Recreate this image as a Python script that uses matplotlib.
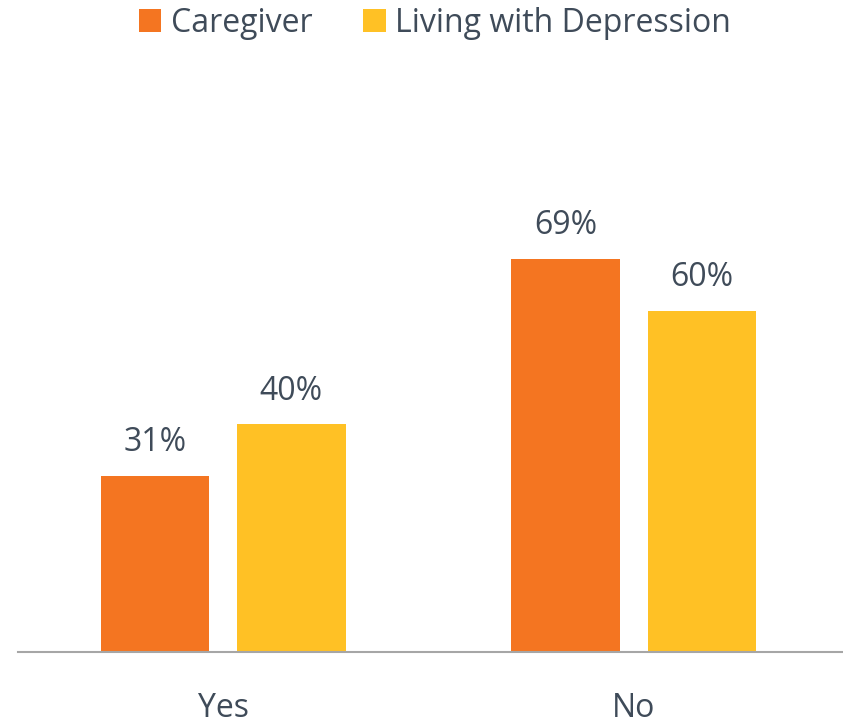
import matplotlib.pyplot as plt
import numpy as np

categories = ["Yes", "No"]
series_names = ["Caregiver", "Living with Depression"]
caregiver = [31, 69]
living = [40, 60]

colors = ["#F47521", "#FFC125"]
text_color = "#3F4B59"

plt.rcParams["font.family"] = ["Open Sans", "DejaVu Sans"]

fig = plt.figure(figsize=(8.43, 7.26), dpi=100)
ax = fig.add_axes([0.0214, 0.1019, 0.9786, 0.784])

x = np.arange(len(categories))
width = 0.264
offset = 0.166

for vals, name, color, dx in zip([caregiver, living], series_names, colors, [-offset, offset]):
    bars = ax.bar(x + dx, vals, width, color=color, label=name)
    for b, v in zip(bars, vals):
        ax.annotate(f"{v}%", (b.get_x() + b.get_width() / 2, v),
                    xytext=(0, 24), textcoords="offset points",
                    ha="center", va="center", fontsize=23, color=text_color)

ax.set_xlim(-0.5, 1.51)
ax.set_ylim(0, 100)
ax.set_xticks(x)
ax.set_xticklabels(categories, fontsize=23, color=text_color)
ax.tick_params(axis="x", length=0, pad=29)
ax.set_yticks([])
for s in ["top", "right", "left"]:
    ax.spines[s].set_visible(False)
ax.spines["bottom"].set_color("#A6A6A6")
ax.spines["bottom"].set_linewidth(1.5)

leg = fig.legend(loc="center", bbox_to_anchor=(0.516, 0.968), ncol=2, frameon=False,
                 fontsize=23, handlelength=0.7, handleheight=0.7, handletextpad=0.3,
                 columnspacing=1.6)
for t in leg.get_texts():
    t.set_color(text_color)

fig.savefig("out.png", dpi=100)
